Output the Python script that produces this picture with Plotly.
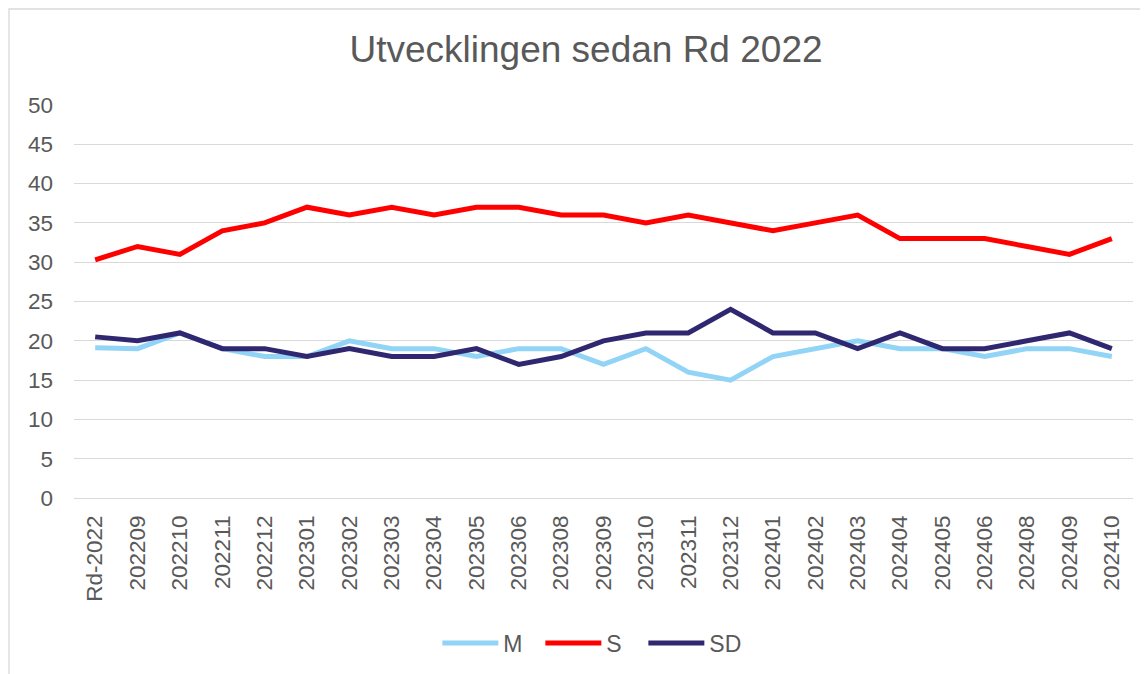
import plotly.graph_objects as go

categories = ["Rd-2022", "202209", "202210", "202211", "202212", "202301", "202302", "202303",
              "202304", "202305", "202306", "202308", "202309", "202310", "202311", "202312",
              "202401", "202402", "202403", "202404", "202405", "202406", "202408", "202409", "202410"]
M = [19.1, 19, 21, 19, 18, 18, 20, 19, 19, 18, 19, 19, 17, 19, 16, 15, 18, 19, 20, 19, 19, 18, 19, 19, 18]
S = [30.3, 32, 31, 34, 35, 37, 36, 37, 36, 37, 37, 36, 36, 35, 36, 35, 34, 35, 36, 33, 33, 33, 32, 31, 33]
SD = [20.5, 20, 21, 19, 19, 18, 19, 18, 18, 19, 17, 18, 20, 21, 21, 24, 21, 21, 19, 21, 19, 19, 20, 21, 19]
y_ticks = [0, 5, 10, 15, 20, 25, 30, 35, 40, 45, 50]

font_family = "Liberation Sans, Arial, sans-serif"
text_color = "#595959"

W, H = 1148, 674
L, R, T, B = 66, 23, 97, 184
PW, PH = W - L - R, H - T - B

fig = go.Figure()
for name, vals, color in [("M", M, "#92D4F5"), ("S", S, "#FF0000"), ("SD", SD, "#2F2870")]:
    fig.add_trace(go.Scatter(x=categories, y=vals, name=name, mode="lines",
                             line=dict(color=color, width=5)))

fig.update_layout(
    template="none",
    width=W, height=H,
    paper_bgcolor="white", plot_bgcolor="white",
    margin=dict(l=L, r=R, t=T, b=B, autoexpand=False),
    title=dict(text="Utvecklingen sedan Rd 2022", x=578 / W, xanchor="center",
               y=1 - 41 / H, yanchor="middle",
               font=dict(family=font_family, size=37, color=text_color)),
    font=dict(family=font_family, size=22, color=text_color),
    showlegend=True,
    legend=dict(orientation="h", x=0.489, xanchor="center", y=-145 / PH, yanchor="middle",
                font=dict(size=23, color=text_color), bgcolor="rgba(0,0,0,0)",
                itemwidth=56, entrywidth=32, entrywidthmode="pixels"),
    xaxis=dict(type="category", tickangle=-90, showgrid=False, showline=False, ticks="",
               automargin=False, ticklabelstandoff=12,
               tickfont=dict(size=22.5, color=text_color), range=[-0.5, 24.5]),
    yaxis=dict(range=[0, 50], tickvals=y_ticks, showgrid=True, gridcolor="#D9D9D9", gridwidth=1.3,
               zeroline=True, zerolinecolor="#D9D9D9", zerolinewidth=1.3, ticks="",
               automargin=False, ticklabelstandoff=20,
               tickfont=dict(size=22.5, color=text_color), showline=False),
    shapes=[dict(type="rect", xref="paper", yref="paper",
                 x0=(1 - L) / PW, x1=(W + 20 - L) / PW,
                 y0=-(B + 20) / PH, y1=1 + (T - 1) / PH,
                 line=dict(color="#D9D9D9", width=1.3), fillcolor="rgba(0,0,0,0)", layer="below")],
)

fig.write_html("out.html")
